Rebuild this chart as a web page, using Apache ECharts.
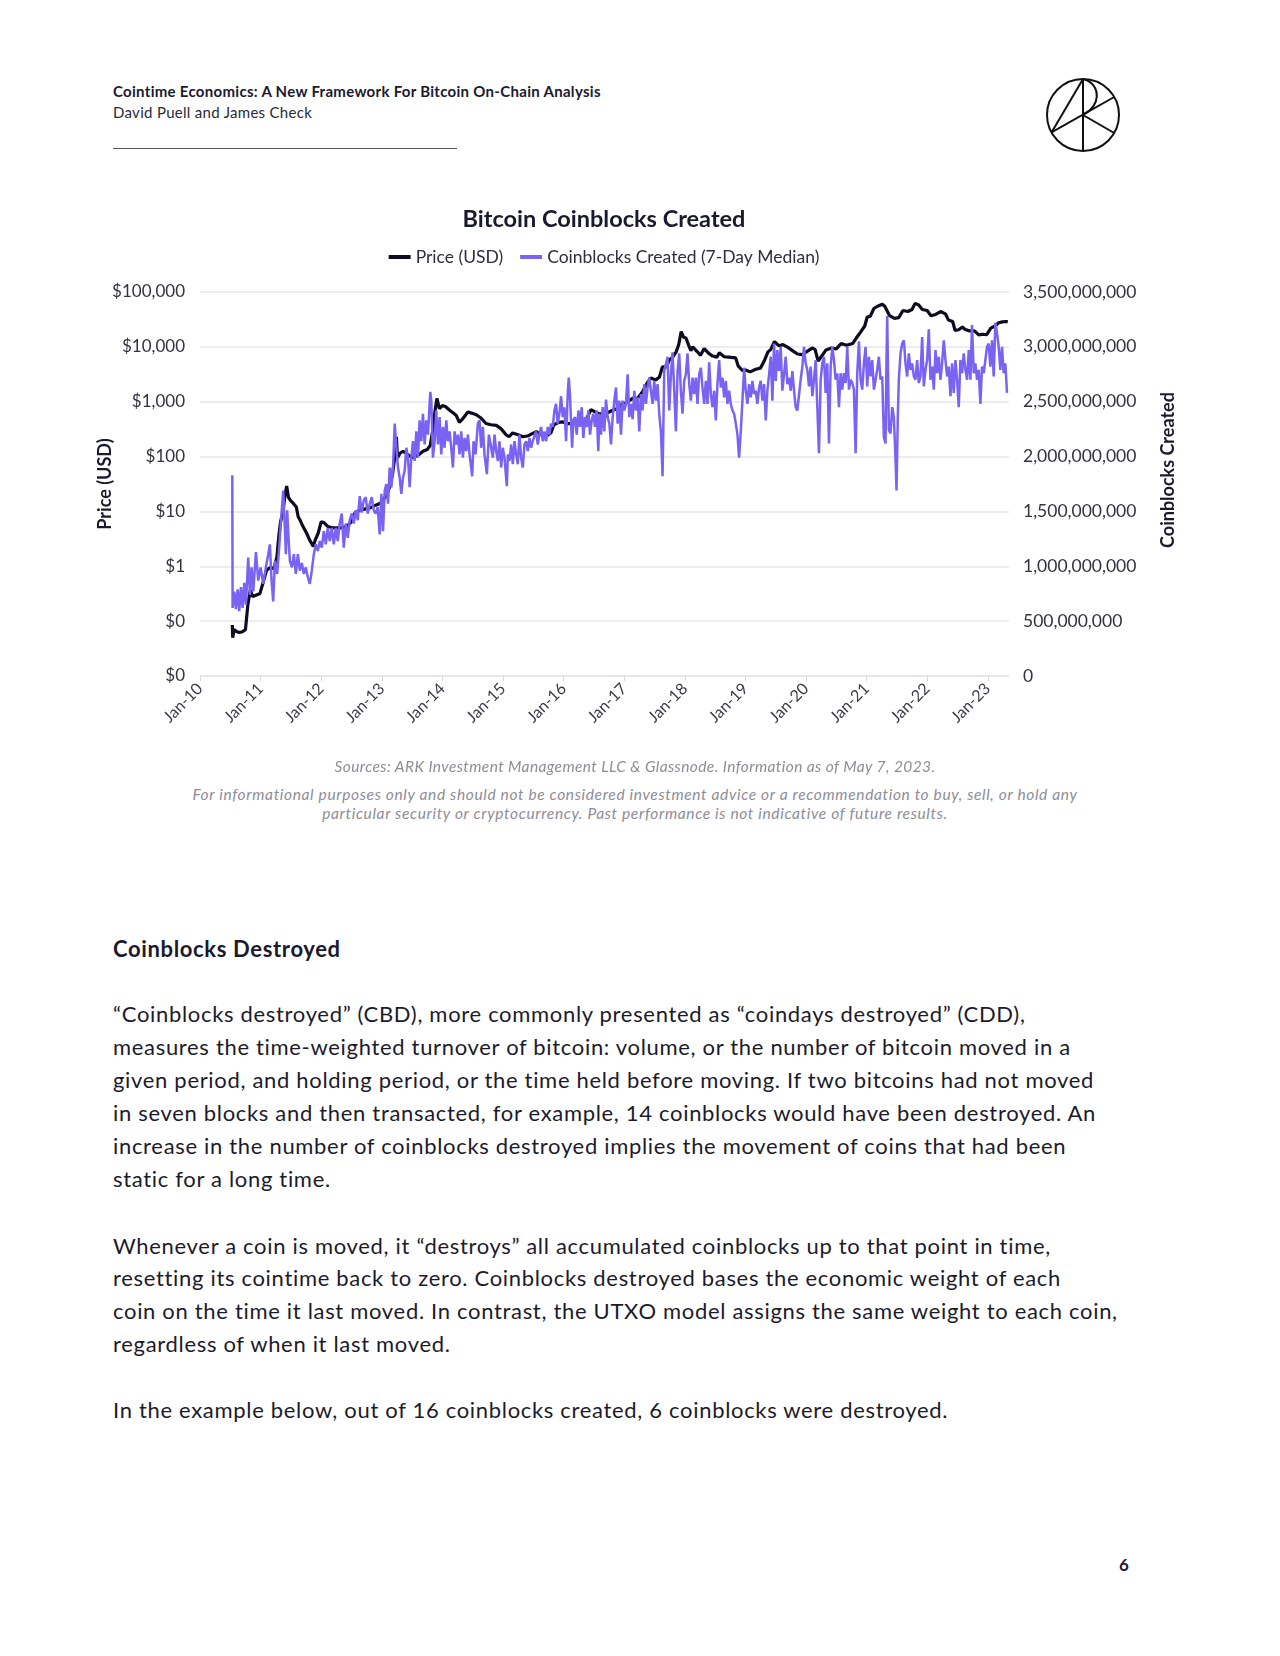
<!DOCTYPE html>
<html>
<head>
<meta charset="utf-8">
<script src="https://cdn.jsdelivr.net/npm/echarts@6/dist/echarts.min.js"></script>
<style>
  html, body { margin:0; padding:0; background:#fff; }
  body { width:1280px; height:1656px; position:relative; font-family:'Lato', sans-serif; color:#1a1a2e; overflow:hidden; }
  .abs { position:absolute; white-space:nowrap; }
  #chart { position:absolute; left:0; top:0; width:1208px; height:760px; }
  .body-text { font-size:22px; letter-spacing:0.68px; line-height:32.9px; color:#1c1b2b; }
  .note { font-style:italic; color:#8d8d97; font-size:15.5px; text-align:center; left:0; width:1270px; }
</style>
</head>
<body>
<div class="abs" style="left:113px; top:81.5px; font-size:15px; letter-spacing:0.3px; font-weight:bold; color:#1a1a2e;">Cointime Economics: A New Framework For Bitcoin On-Chain Analysis</div>
<div class="abs" style="left:113px; top:102.5px; font-size:15px; letter-spacing:0.3px; color:#2a2a38;">David Puell and James Check</div>
<div class="abs" style="left:113px; top:148px; width:344px; height:0; border-top:1.5px solid #555;"></div>

<svg class="abs" style="left:1045px; top:77px;" width="76" height="76" viewBox="-38 -38 76 76">
  <g fill="none" stroke="#111" stroke-width="2">
    <circle cx="0" cy="0" r="36"/>
    <line x1="0" y1="-36" x2="0" y2="36"/>
    <line x1="0" y1="-36" x2="-31.5" y2="17.4"/>
    <line x1="-31.5" y1="17.4" x2="31.2" y2="-18"/>
    <line x1="0" y1="0" x2="31.2" y2="18"/>
    <path d="M 1.5 -35.5 C 19 -30, 17 -8, 1 -1"/>
  </g>
</svg>

<div id="chart"></div>

<div class="abs note" style="top:757px; letter-spacing:0.4px;">Sources: ARK Investment Management LLC &amp; Glassnode. Information as of May 7, 2023.</div>
<div class="abs note" style="top:785px; line-height:19px; letter-spacing:0.65px;">For informational purposes only and should not be considered investment advice or a recommendation to buy, sell, or hold any<br>particular security or cryptocurrency. Past performance is not indicative of future results.</div>

<div class="abs" style="left:113px; top:935px; font-size:22px; letter-spacing:0.65px; font-weight:bold; color:#1a1a2e;">Coinblocks Destroyed</div>

<div class="abs body-text" style="left:113px; top:998px;">“Coinblocks destroyed” (CBD), more commonly presented as “coindays destroyed” (CDD),<br>measures the time-weighted turnover of bitcoin: volume, or the number of bitcoin moved in a<br>given period, and holding period, or the time held before moving. If two bitcoins had not moved<br>in seven blocks and then transacted, for example, 14 coinblocks would have been destroyed. An<br>increase in the number of coinblocks destroyed implies the movement of coins that had been<br>static for a long time.</div>

<div class="abs body-text" style="left:113px; top:1229.5px;">Whenever a coin is moved, it “destroys” all accumulated coinblocks up to that point in time,<br>resetting its cointime back to zero. Coinblocks destroyed bases the economic weight of each<br>coin on the time it last moved. In contrast, the UTXO model assigns the same weight to each coin,<br>regardless of when it last moved.</div>

<div class="abs body-text" style="left:113px; top:1393.5px;">In the example below, out of 16 coinblocks created, 6 coinblocks were destroyed.</div>

<div class="abs" style="left:1119px; top:1554px; font-size:17px; font-weight:bold; color:#1a1a2e;">6</div>

<script>
// ---- Data (x positions are fractional years) ----
const tickYears = [2010, 2011, 2012, 2013, 2014, 2015, 2016, 2017, 2018, 2019, 2020, 2021, 2022, 2023];
const tickLabels = ['Jan-10','Jan-11','Jan-12','Jan-13','Jan-14','Jan-15','Jan-16','Jan-17','Jan-18','Jan-19','Jan-20','Jan-21','Jan-22','Jan-23'];
const priceTickLabels = ['$0','$0','$1','$10','$100','$1,000','$10,000','$100,000'];

const priceDates = [
 2010.533,2010.540,2010.560,2010.600,2010.650,2010.700,2010.750,2010.790,2010.830,2010.870,
 2010.930,2010.990,2011.040,2011.100,2011.160,2011.220,2011.270,2011.300,2011.330,2011.370,
 2011.400,2011.430,2011.460,2011.490,2011.540,2011.590,2011.620,2011.650,2011.700,2011.760,
 2011.810,2011.870,2011.900,2011.950,2012.000,2012.050,2012.110,2012.200,2012.310,2012.420,
 2012.500,2012.560,2012.630,2012.710,2012.800,2012.900,2012.970,2013.020,2013.080,2013.140,
 2013.180,2013.210,2013.240,2013.260,2013.300,2013.350,2013.420,2013.500,2013.550,2013.620,
 2013.680,2013.750,2013.800,2013.840,2013.880,2013.910,2013.950,2014.000,2014.050,2014.120,
 2014.180,2014.230,2014.280,2014.330,2014.420,2014.480,2014.560,2014.640,2014.720,2014.800,
 2014.890,2014.970,2015.050,2015.100,2015.160,2015.250,2015.330,2015.420,2015.490,2015.550,
 2015.630,2015.710,2015.790,2015.840,2015.920,2015.980,2016.050,2016.150,2016.250,2016.370,
 2016.450,2016.520,2016.590,2016.700,2016.810,2016.900,2016.970,2017.030,2017.140,2017.220,
 2017.300,2017.380,2017.440,2017.520,2017.580,2017.630,2017.700,2017.740,2017.800,2017.860,
 2017.900,2017.940,2017.980,2018.020,2018.060,2018.100,2018.130,2018.200,2018.260,2018.320,
 2018.400,2018.460,2018.530,2018.570,2018.650,2018.720,2018.840,2018.880,2018.950,2019.000,
 2019.080,2019.170,2019.250,2019.310,2019.370,2019.420,2019.480,2019.550,2019.620,2019.700,
 2019.800,2019.860,2019.940,2020.000,2020.100,2020.150,2020.200,2020.260,2020.330,2020.420,
 2020.500,2020.580,2020.670,2020.770,2020.830,2020.900,2020.970,2021.010,2021.060,2021.120,
 2021.180,2021.260,2021.300,2021.340,2021.380,2021.460,2021.530,2021.600,2021.680,2021.750,
 2021.800,2021.860,2021.920,2022.000,2022.060,2022.140,2022.220,2022.300,2022.350,2022.420,
 2022.460,2022.520,2022.580,2022.620,2022.700,2022.780,2022.850,2022.920,2022.980,2023.050,
 2023.120,2023.180,2023.240,2023.300,2023.330
];
const priceValues = [
 0.085,0.05,0.07,0.065,0.062,0.064,0.07,0.20,0.37,0.28,
 0.30,0.32,0.50,0.85,0.95,0.90,1.5,3.5,6.5,10,
 19,29,18,16,14,12,8,7,5.3,4.0,
 3.0,2.3,3.0,4.0,6.5,6.2,5.3,5.0,5.0,5.3,
 6.5,9.5,10.5,11,11.5,13,14,16,20,30,
 50,90,230,95,115,125,110,95,100,110,
 125,135,160,300,700,1150,750,850,820,700,
 620,560,420,480,650,620,580,500,400,380,
 370,320,250,230,270,250,230,240,265,285,
 250,235,270,380,420,430,400,400,420,460,
 720,650,600,610,700,760,920,950,1150,1150,
 1500,2200,2700,2500,2800,4300,4300,5700,6500,8200,
 11000,19000,15000,14500,11000,8500,10000,8300,7000,9300,
 7500,6800,6500,7800,6600,6500,6300,4500,3700,3800,
 3500,3900,4100,5500,8000,9000,12500,10500,11000,9800,
 8200,7400,7200,8000,9500,9000,5500,6800,8800,9500,
 9200,11500,10700,11500,14500,18500,24000,35000,36000,50000,
 55000,60000,55000,45000,37000,33000,34000,46000,44000,48000,
 62000,58000,48000,46000,37000,39000,44000,40000,31000,29000,
 20000,20500,23000,21000,19500,19500,16500,17000,16600,22000,
 24000,27500,28500,29000,28500
];

// Coinblocks created (7-day median), in billions
const cbDates = [
 2010.533,2010.538,2010.566,2010.593,2010.621,2010.648,2010.675,2010.703,2010.730,2010.758,
 2010.796,2010.824,2010.851,2010.879,2010.923,2010.961,2011.000,2011.043,2011.087,2011.126,
 2011.153,2011.181,2011.208,2011.236,2011.274,2011.318,2011.345,2011.373,2011.395,2011.417,
 2011.439,2011.461,2011.483,2011.516,2011.549,2011.582,2011.615,2011.647,2011.680,2011.713,
 2011.746,2011.779,2011.812,2011.845,2011.878,2011.911,2011.944,2011.977,2012.010,2012.043,
 2012.076,2012.109,2012.142,2012.175,2012.208,2012.241,2012.273,2012.306,2012.339,2012.372,
 2012.405,2012.438,2012.471,2012.504,2012.537,2012.570,2012.603,2012.636,2012.669,2012.702,
 2012.735,2012.768,2012.801,2012.834,2012.867,2012.899,2012.932,2012.965,2012.993,2013.020,
 2013.048,2013.075,2013.103,2013.130,2013.158,2013.185,2013.213,2013.240,2013.267,2013.295,
 2013.322,2013.350,2013.377,2013.405,2013.432,2013.460,2013.487,2013.515,2013.542,2013.570,
 2013.597,2013.624,2013.652,2013.679,2013.707,2013.734,2013.762,2013.800,2013.817,2013.844,
 2013.872,2013.899,2013.927,2013.954,2013.981,2014.009,2014.036,2014.064,2014.091,2014.119,
 2014.146,2014.174,2014.201,2014.229,2014.256,2014.283,2014.311,2014.338,2014.366,2014.393,
 2014.421,2014.448,2014.492,2014.514,2014.547,2014.585,2014.613,2014.640,2014.668,2014.695,
 2014.734,2014.767,2014.805,2014.833,2014.860,2014.888,2014.915,2014.942,2014.970,2014.997,
 2015.025,2015.063,2015.080,2015.107,2015.135,2015.162,2015.190,2015.217,2015.244,2015.272,
 2015.299,2015.327,2015.354,2015.382,2015.409,2015.437,2015.464,2015.491,2015.546,2015.574,
 2015.601,2015.629,2015.656,2015.684,2015.711,2015.739,2015.766,2015.794,2015.821,2015.849,
 2015.876,2015.903,2015.931,2015.958,2015.986,2016.013,2016.041,2016.068,2016.085,2016.107,
 2016.140,2016.162,2016.189,2016.217,2016.244,2016.271,2016.299,2016.326,2016.354,2016.381,
 2016.409,2016.436,2016.464,2016.491,2016.518,2016.546,2016.573,
 2016.590,2016.617,2016.645,2016.672,2016.700,2016.727,2016.755,2016.782,2016.810,2016.837,
 2016.865,2016.892,2016.919,2016.947,2016.974,2017.002,2017.029,2017.057,2017.084,2017.112,
 2017.139,2017.167,2017.194,2017.222,2017.249,2017.276,2017.304,2017.331,2017.359,2017.386,
 2017.414,2017.441,2017.469,2017.496,2017.524,2017.551,2017.578,2017.606,2017.633,2017.661,
 2017.688,2017.716,2017.743,2017.771,2017.798,2017.826,2017.853,2017.881,2017.908,2017.935,
 2017.963,2017.990,2018.018,2018.045,2018.073,2018.100,2018.128,2018.155,2018.183,2018.210,
 2018.237,2018.265,2018.292,2018.320,2018.347,2018.375,2018.402,2018.430,2018.457,2018.485,
 2018.512,2018.539,2018.567,2018.594,2018.622,2018.649,2018.677,2018.704,2018.732,2018.759,
 2018.787,2018.814,2018.842,2018.869,2018.896,2018.924,2018.951,2018.979,2019.006,2019.034,
 2019.061,2019.089,2019.116,2019.144,2019.171,2019.198,2019.226,2019.253,2019.281,2019.308,
 2019.336,2019.363,2019.391,2019.418,2019.446,2019.473,2019.501,2019.528,2019.555,2019.583,
 2019.610,2019.638,2019.665,2019.693,2019.720,2019.748,2019.775,2019.803,2019.830,2019.857,
 2019.885,2019.912,2019.940,2019.967,2019.995,2020.022,2020.050,2020.077,2020.105,2020.132,
 2020.160,2020.187,2020.214,2020.242,2020.269,2020.297,2020.324,2020.352,2020.379,2020.407,
 2020.434,2020.462,2020.489,2020.517,2020.544,2020.571,2020.599,2020.626,2020.654,2020.681,
 2020.709,2020.736,2020.764,2020.791,2020.819,2020.846,2020.873,2020.901,2020.928,2020.956,
 2020.983,2021.011,2021.038,2021.066,2021.093,2021.121,2021.148,2021.175,2021.203,2021.230,
 2021.258,2021.285,2021.313,2021.324,2021.340,2021.368,2021.395,2021.423,2021.450,2021.478,
 2021.494,2021.516,2021.532,2021.560,2021.587,2021.615,2021.642,2021.670,2021.697,2021.725,
 2021.752,2021.780,2021.807,2021.834,2021.862,2021.889,2021.917,2021.944,2021.972,2021.999,
 2022.027,2022.054,2022.082,2022.109,2022.137,2022.164,2022.191,2022.219,2022.246,2022.274,
 2022.301,2022.329,2022.356,2022.384,2022.411,2022.438,2022.466,2022.493,2022.521,2022.548,
 2022.576,2022.603,2022.631,2022.658,2022.686,2022.713,2022.740,2022.768,2022.795,2022.823,
 2022.850,2022.878,2022.905,2022.933,2022.960,2022.988,2023.015,2023.043,2023.070,2023.098,
 2023.125,2023.152,2023.180,2023.207,2023.235,2023.262,2023.290,2023.317
];
const cbValues = [
 1.83,0.62,0.77,0.61,0.79,0.59,0.81,0.62,0.85,0.65,
 1.08,0.74,0.99,0.77,1.13,0.87,0.99,0.84,0.99,1.11,
 1.20,0.87,0.68,1.05,0.93,1.26,1.48,1.69,1.42,1.11,
 1.51,1.26,1.05,0.99,1.11,0.93,1.11,0.96,1.03,0.93,
 0.99,0.90,0.84,0.96,1.11,1.20,1.14,1.23,1.17,1.32,
 1.20,1.35,1.23,1.35,1.20,1.35,1.23,1.39,1.48,1.17,
 1.39,1.26,1.42,1.48,1.39,1.51,1.42,1.64,1.49,1.60,
 1.63,1.48,1.57,1.63,1.51,1.48,1.54,1.29,1.66,1.32,
 1.69,1.75,1.57,1.90,1.72,1.90,2.30,2.09,1.90,1.81,
 1.66,1.81,1.87,2.08,1.99,1.72,1.99,2.14,1.96,2.23,
 1.99,2.33,2.14,2.39,2.11,2.33,2.20,2.59,2.51,1.99,
 2.14,2.42,2.11,2.36,2.02,2.27,2.08,2.33,2.14,2.23,
 2.08,1.90,2.23,2.11,2.20,2.02,2.23,1.99,2.17,2.05,
 2.20,2.02,1.82,2.14,2.02,2.30,2.33,2.08,2.27,2.02,
 1.84,2.20,2.08,1.99,2.20,2.05,1.96,2.14,1.90,2.08,
 1.99,1.73,2.02,1.96,2.11,1.93,2.14,2.02,1.93,2.20,
 1.99,1.90,2.11,2.14,2.05,2.17,2.08,2.14,2.23,2.11,
 2.20,2.27,2.14,2.23,2.14,2.27,2.20,2.30,2.27,2.42,
 2.48,2.30,2.39,2.55,2.36,2.45,2.14,2.57,2.72,2.54,
 2.08,2.33,2.36,2.20,2.42,2.27,2.45,2.17,2.36,2.27,
 2.42,2.20,2.33,2.39,2.27,2.42,2.05,
 2.39,2.20,2.45,2.23,2.52,2.36,2.30,2.11,2.36,2.51,
 2.63,2.30,2.51,2.20,2.51,2.42,2.48,2.75,2.36,2.48,
 2.34,2.60,2.42,2.54,2.23,2.57,2.42,2.66,2.48,2.63,
 2.72,2.60,2.48,2.69,2.51,2.66,2.39,2.23,1.82,2.78,
 2.84,2.91,2.42,2.75,2.95,2.60,2.23,2.78,2.94,2.60,
 2.39,2.69,2.75,2.94,2.66,2.51,2.72,2.57,2.72,2.48,
 2.75,2.81,2.63,2.48,2.69,2.48,2.86,2.57,2.45,2.60,
 2.33,2.66,2.88,2.63,2.72,2.54,2.69,2.48,2.60,2.48,
 2.42,2.39,2.30,2.20,1.99,2.23,2.51,2.81,2.60,2.48,
 2.66,2.54,2.69,2.57,2.60,2.48,2.63,2.69,2.51,2.66,
 2.33,2.60,2.75,2.91,2.51,3.03,2.69,2.97,2.78,3.00,
 2.60,2.75,2.91,2.66,2.72,2.60,2.78,2.60,2.45,2.42,
 2.42,2.70,2.82,3.00,2.85,2.79,2.64,2.82,2.55,2.70,
 2.88,2.45,2.03,2.70,2.85,2.91,2.58,2.85,2.12,2.82,
 3.00,2.88,2.70,2.76,2.45,2.76,2.61,2.76,2.67,3.00,
 2.61,2.70,2.67,2.61,2.03,2.76,3.05,2.70,2.61,2.85,
 3.00,2.64,2.91,2.73,2.88,2.61,2.70,2.79,2.91,2.70,
 2.73,2.18,2.12,2.70,3.28,2.24,2.21,2.45,2.36,1.97,
 1.69,2.39,2.70,2.94,3.03,3.06,2.85,2.73,2.94,2.79,
 2.85,2.73,2.70,2.88,2.67,2.73,3.09,2.64,2.79,2.88,
 3.16,2.70,2.82,2.61,2.97,2.76,2.91,2.70,2.85,3.06,
 2.88,2.73,2.82,2.55,2.85,2.58,2.88,2.70,2.45,2.88,
 2.76,2.94,2.79,2.70,2.97,2.70,3.20,2.76,2.85,2.70,
 2.79,2.48,2.82,2.76,2.88,3.00,3.03,2.82,3.06,2.73,
 3.22,3.13,3.00,2.79,3.00,2.76,2.85,2.58
];

if (cbDates.length !== cbValues.length) console.error('cb length mismatch', cbDates.length, cbValues.length);
if (priceDates.length !== priceValues.length) console.error('price length mismatch', priceDates.length, priceValues.length);

const priceData = priceDates.map((d, i) => [d, priceValues[i]]);
const cbData = cbDates.map((d, i) => [d, cbValues[i] * 1e9]);

const FONT = 'Lato';
const chart = echarts.init(document.getElementById('chart'), null, { renderer: 'canvas' });
chart.setOption({
  animation: false,
  textStyle: { fontFamily: FONT },
  title: {
    text: 'Bitcoin Coinblocks Created',
    left: 'center',
    top: 202,
    textStyle: { fontFamily: FONT, fontSize: 23.5, fontWeight: 'bold', color: '#1a1a2e' }
  },
  legend: {
    top: 243,
    left: 'center',
    icon: 'rect',
    itemWidth: 22,
    itemHeight: 4,
    itemGap: 17,
    textStyle: { fontFamily: FONT, fontSize: 17.5, color: '#2e2e3c' },
    data: ['Price (USD)', 'Coinblocks Created (7-Day Median)']
  },
  grid: { left: 200, top: 292, width: 809, height: 384, containLabel: false },
  xAxis: {
    type: 'value',
    min: 2010,
    max: 2023.35,
    interval: 1,
    axisLine: { show: true, lineStyle: { color: '#e4e4ea', width: 1.5 } },
    axisTick: { show: true, length: 5, customValues: tickYears, lineStyle: { color: '#d8d8e0', width: 1 } },
    axisLabel: {
      customValues: tickYears,
      rotate: 45,
      margin: 10,
      fontFamily: FONT,
      fontSize: 16,
      color: '#3a3a48',
      formatter: (v) => tickLabels[tickYears.indexOf(Math.round(v))] || ''
    },
    splitLine: { show: false }
  },
  yAxis: [
    {
      type: 'log',
      logBase: 10,
      min: 0.01,
      max: 100000,
      splitNumber: 7,
      position: 'left',
      name: 'Price (USD)',
      nameLocation: 'middle',
      nameGap: 86,
      nameMoveOverlap: false,
      nameRotate: 90,
      nameTextStyle: { fontFamily: FONT, fontSize: 18, fontWeight: 'bold', color: '#1a1a2e' },
      axisLine: { show: false },
      axisTick: { show: false },
      axisLabel: {
        margin: 15, fontFamily: FONT, fontSize: 17, color: '#33333f',
        formatter: (v) => {
          const e = Math.round(Math.log10(v));
          return priceTickLabels[e + 2];
        }
      },
      splitLine: { show: true, lineStyle: { color: '#e6e6ec', width: 1.5 } }
    },
    {
      type: 'value',
      min: 0,
      max: 3500000000,
      interval: 500000000,
      position: 'right',
      name: 'Coinblocks Created',
      nameLocation: 'middle',
      nameGap: 150,
      nameMoveOverlap: false,
      nameRotate: 90,
      nameTextStyle: { fontFamily: FONT, fontSize: 18, fontWeight: 'bold', color: '#1a1a2e', padding: [0, 0, 0, 28] },
      axisLine: { show: false },
      axisTick: { show: false },
      axisLabel: {
        margin: 14, fontFamily: FONT, fontSize: 17.5, color: '#33333f',
        formatter: (v) => Number(v).toLocaleString('en-US')
      },
      splitLine: { show: false }
    }
  ],
  series: [
    {
      name: 'Price (USD)',
      type: 'line',
      yAxisIndex: 0,
      symbol: 'none',
      showSymbol: false,
      data: priceData,
      lineStyle: { color: '#0e0c20', width: 3.2 },
      itemStyle: { color: '#0e0c20' },
      z: 2
    },
    {
      name: 'Coinblocks Created (7-Day Median)',
      type: 'line',
      yAxisIndex: 1,
      symbol: 'none',
      showSymbol: false,
      data: cbData,
      lineStyle: { color: '#7a63f3', width: 2.5 },
      itemStyle: { color: '#7a63f3' },
      z: 3
    }
  ]
});
</script>
</body>
</html>
